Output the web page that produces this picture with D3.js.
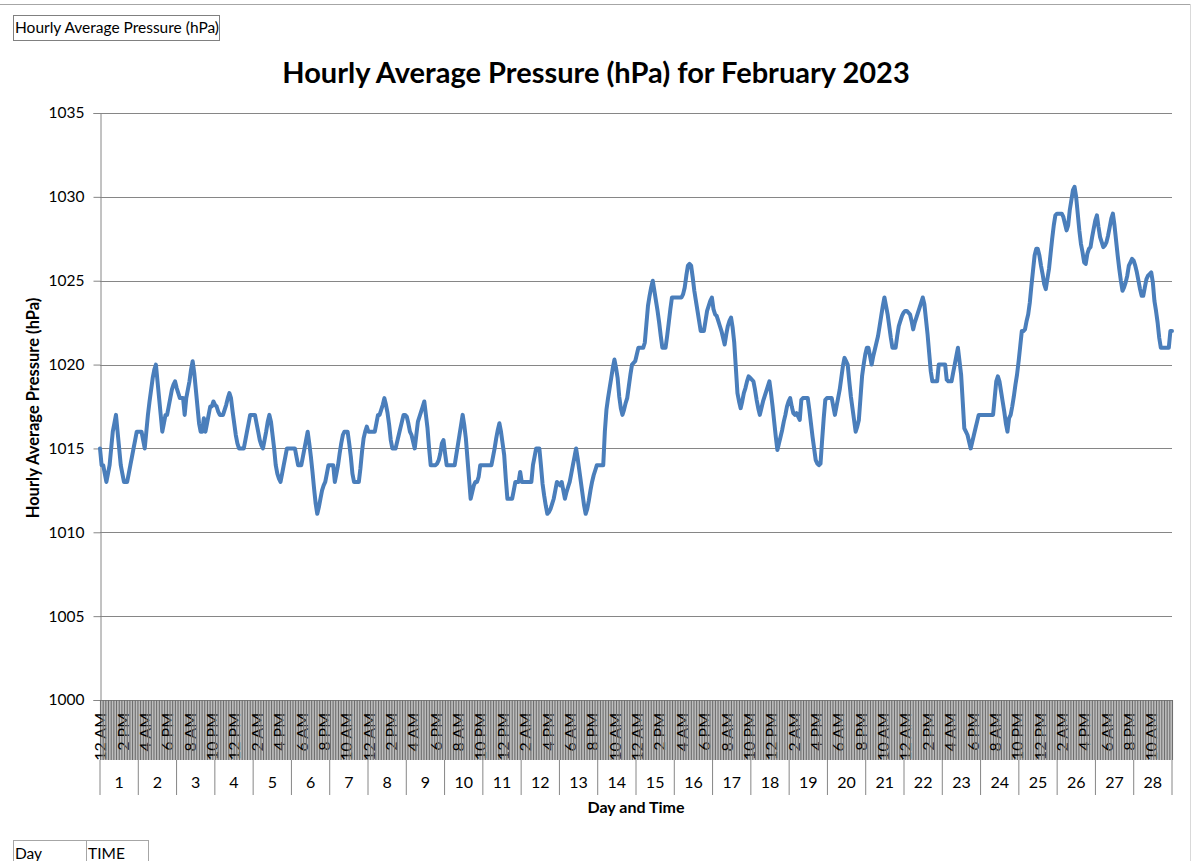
<!DOCTYPE html>
<html><head><meta charset="utf-8">
<script src="https://cdn.jsdelivr.net/npm/d3@7/dist/d3.min.js"></script>
<style>
html,body{margin:0;padding:0;background:#fff;}
svg{display:block;font-family:Lato,"Open Sans",sans-serif;}
</style></head><body>
<svg id="chart" width="1192" height="861"></svg>
<script>
// ---- data ----
const days = [1,2,3,4,5,6,7,8,9,10,11,12,13,14,15,16,17,18,19,20,21,22,23,24,25,26,27,28];
const hourLabels = ["12 AM","1 AM","2 AM","3 AM","4 AM","5 AM","6 AM","7 AM","8 AM","9 AM","10 AM","11 AM",
                    "12 PM","1 PM","2 PM","3 PM","4 PM","5 PM","6 PM","7 PM","8 PM","9 PM","10 PM","11 PM"];
const yTicks = [1000,1005,1010,1015,1020,1025,1030,1035];
const labelEvery = 14;
const pressure = [
 1015,1014,1014,1013.5,1013,1013.5,1014,1015,1016,1016.5,1017,1016,1015,1014,1013.5,1013,1013,1013,1013.5,1014,1014.5,1015,1015.5,1016,
 1016,1016,1016,1015.5,1015,1016,1017,1017.8,1018.5,1019.2,1019.7,1020,1019,1018,1017,1016,1016.5,1017,1017,1017.5,1018,1018.5,1018.8,1019,
 1018.6,1018.3,1018,1018,1018,1017,1018,1018.5,1019,1019.7,1020.2,1019.5,1018.5,1017.5,1016.5,1016,1016,1016.8,1016,1016.5,1017,1017.5,1017.5,1017.8,
 1017.6,1017.5,1017.2,1017,1017,1017,1017.3,1017.6,1018,1018.3,1018,1017.2,1016.5,1015.8,1015.3,1015,1015,1015,1015,1015.5,1016,1016.5,1017,1017,
 1017,1017,1016.5,1016,1015.5,1015.2,1015,1015.5,1016,1016.6,1017,1016.6,1015.8,1015,1014,1013.5,1013.2,1013,1013.5,1014,1014.5,1015,1015,1015,
 1015,1015,1015,1014.5,1014,1014,1014,1014.5,1015,1015.5,1016,1015.3,1014.5,1013.6,1012.6,1011.7,1011.1,1011.5,1012,1012.5,1012.8,1013,1013.5,1014,
 1014,1014,1014,1013,1013.5,1014,1014.7,1015.3,1015.8,1016,1016,1016,1015.3,1014.5,1013.5,1013,1013,1013,1013,1013.8,1014.8,1015.6,1016,1016.3,
 1016,1016,1016,1016,1016,1016.5,1017,1017,1017.3,1017.6,1018,1017.6,1017.1,1016.4,1015.5,1015,1015,1015,1015.4,1015.8,1016.2,1016.6,1017,1017,
 1016.9,1016.5,1016,1015.8,1015.4,1015,1015.8,1016.6,1016.9,1017.2,1017.5,1017.8,1017,1016.2,1015,1014,1014,1014,1014,1014.1,1014.3,1014.7,1015.3,1015.5,
 1014.7,1014,1014,1014,1014,1014,1014,1014.6,1015.2,1015.8,1016.4,1017,1016.4,1015.6,1014.4,1013.2,1012,1012.4,1012.8,1013,1013,1013.3,1014,1014,
 1014,1014,1014,1014,1014,1014,1014.5,1015,1015.6,1016.1,1016.5,1016,1015.3,1014.6,1013.2,1012,1012,1012,1012,1012.5,1013,1013,1013,1013.6,
 1013,1013,1013,1013,1013,1013,1013,1014,1014.5,1015,1015,1015,1014,1012.9,1012.2,1011.6,1011.1,1011.2,1011.4,1011.7,1012,1012.5,1013,1012.9,
 1012.8,1013,1012.5,1012,1012.4,1012.7,1013,1013.5,1014,1014.5,1015,1014.4,1013.7,1013,1012.3,1011.6,1011.1,1011.4,1011.9,1012.5,1013,1013.4,1013.7,1014,
 1014,1014,1014,1014,1016,1017.3,1018,1018.6,1019.2,1019.8,1020.3,1019.8,1019.2,1018.1,1017.4,1017,1017.3,1017.7,1018,1018.7,1019.4,1020,1020.1,1020.2,
 1020.6,1021,1021,1021,1021,1021.3,1022.4,1023.5,1024.1,1024.6,1025,1024.4,1023.8,1023.2,1022.5,1021.7,1021,1021,1021,1021.7,1022.5,1023.3,1024,1024,
 1024,1024,1024,1024,1024,1024.2,1024.6,1025.3,1025.9,1026,1025.9,1025.2,1024.4,1023.8,1023.2,1022.6,1022,1022,1022,1022.6,1023.2,1023.5,1023.8,1024,
 1023.3,1023,1022.9,1022.6,1022.3,1022,1021.6,1021.2,1021.8,1022.3,1022.6,1022.8,1022.2,1021.3,1019.8,1018.3,1017.8,1017.4,1017.8,1018.3,1018.6,1019,1019.3,1019.2,
 1019.1,1019,1018.5,1017.9,1017.4,1017,1017.4,1017.8,1018.1,1018.4,1018.7,1019,1018.3,1017.5,1016.6,1015.7,1014.9,1015.3,1015.7,1016.1,1016.6,1017,1017.5,1017.8,
 1018,1017.5,1017.1,1017,1017.1,1016.9,1016.7,1017.9,1018,1018,1018,1018,1017.3,1016.5,1015.7,1015,1014.3,1014.1,1014,1014.1,1015.5,1016.8,1017.9,1018,
 1018,1018,1018,1017.5,1017,1017.5,1018,1018.5,1019.2,1019.9,1020.4,1020.2,1020,1019,1018.1,1017.4,1016.7,1016,1016.3,1016.7,1018,1019.3,1020,1020.6,
 1021,1021,1020.5,1020,1020.5,1020.9,1021.3,1021.7,1022.3,1022.9,1023.5,1024,1023.5,1023,1022.3,1021.6,1021,1021,1021,1021.7,1022.3,1022.6,1022.9,1023.1,
 1023.2,1023.2,1023.1,1023,1022.6,1022.1,1022.5,1022.8,1023.1,1023.4,1023.7,1024,1023.6,1022.7,1021.8,1020.7,1019.6,1019,1019,1019,1019,1020,1020,1020,
 1020,1020,1019.1,1019,1019,1019,1019.5,1020,1020.5,1021,1020.2,1019.4,1017.8,1016.2,1016,1015.8,1015.4,1015,1015.4,1015.8,1016.2,1016.6,1017,1017,
 1017,1017,1017,1017,1017,1017,1017,1017,1018,1019,1019.3,1019,1018.4,1017.8,1017.2,1016.5,1016,1016.8,1017,1017.5,1018.1,1018.8,1019.4,1020.2,
 1021.1,1022,1022,1022.1,1022.6,1023,1023.7,1024.7,1025.6,1026.5,1026.9,1026.9,1026.5,1025.9,1025.4,1024.8,1024.5,1025.1,1025.7,1026.6,1027.5,1028.3,1028.9,1029,
 1029,1029,1029,1028.8,1028.4,1028,1028.3,1029.2,1029.8,1030.4,1030.6,1030,1029,1028,1027.2,1026.7,1026.1,1026,1026.6,1026.9,1027,1027.6,1028.1,1028.6,
 1028.9,1028.2,1027.6,1027.3,1027,1027.1,1027.3,1027.7,1028.2,1028.7,1029,1028.3,1027.4,1026.5,1025.7,1025,1024.4,1024.6,1024.9,1025.3,1025.9,1026.1,1026.3,1026.2,
 1025.9,1025.5,1025,1024.5,1024.1,1024.1,1024.6,1025.1,1025.3,1025.4,1025.5,1024.9,1023.8,1023.2,1022.5,1021.6,1021,1021,1021,1021,1021,1021,1022,1022
];

// ---- chart ----
const svg = d3.select("#chart");
const plot = {left:100, right:1172, top:113, bottom:700};

const cats = pressure.map((v,i)=>({
  key: days[Math.floor(i/24)] + "|" + hourLabels[i%24],
  idx: i, label: hourLabels[i%24], value: v
}));

const x = d3.scalePoint().domain(cats.map(d=>d.key)).range([plot.left, plot.right]);
const xDay = d3.scaleBand().domain(days).range([plot.left, plot.right]);
const y = d3.scaleLinear().domain([1000,1035]).range([plot.bottom, plot.top]);

// chart-area border
svg.append("line").attr("x1",0).attr("x2",1190.5).attr("y1",4.5).attr("y2",4.5)
   .attr("stroke","#a6a6a6").attr("stroke-width",1);
svg.append("line").attr("x1",1190.5).attr("x2",1190.5).attr("y1",4).attr("y2",861)
   .attr("stroke","#d9d9d9").attr("stroke-width",1);

// top-left label box
svg.append("rect").attr("x",13.5).attr("y",15.5).attr("width",206).attr("height",25)
   .attr("fill","#fff").attr("stroke","#808080");
svg.append("text").attr("x",15).attr("y",33).attr("font-size",15.5).attr("fill","#000")
   .text("Hourly Average Pressure (hPa)");

// title
svg.append("text").attr("x",596).attr("y",83).attr("text-anchor","middle")
   .attr("font-size",29).attr("font-weight","bold").attr("fill","#000")
   .text("Hourly Average Pressure (hPa) for February 2023");

// gridlines
svg.append("g").selectAll("line").data(yTicks).join("line")
   .attr("x1",plot.left).attr("x2",plot.right)
   .attr("y1",d=>Math.round(y(d))+0.5).attr("y2",d=>Math.round(y(d))+0.5)
   .attr("stroke","#868686").attr("stroke-width",1);

// y axis
const yAxis = svg.append("g").attr("transform",`translate(${plot.left+0.5},0)`)
   .call(d3.axisLeft(y).tickValues(yTicks).tickSize(7).tickPadding(9).tickFormat(d3.format("d")));
yAxis.select(".domain").attr("stroke","#868686");
yAxis.selectAll(".tick line").attr("stroke","#868686");
yAxis.selectAll("text").attr("font-size",15.5).attr("fill","#000").attr("font-family","Lato");

// y title
svg.append("text").attr("transform","translate(39,408) rotate(-90)").attr("text-anchor","middle")
   .attr("font-size",16.5).attr("font-weight","bold").attr("fill","#000")
   .text("Hourly Average Pressure (hPa)");

// x axis inner level (hour ticks)
const xAxis = svg.append("g").attr("transform",`translate(0,${plot.bottom})`)
   .call(d3.axisBottom(x).tickSize(60).tickSizeOuter(0)
        .tickFormat(k=>{ const c = cats[x.domain().indexOf(k)]; return c.idx % labelEvery === 0 ? c.label : ""; }));
xAxis.select(".domain").attr("stroke","#868686");
xAxis.selectAll(".tick line").attr("stroke","#6e6e6e").attr("stroke-width",1.1);
xAxis.selectAll(".tick text")
   .attr("transform","rotate(-90)").attr("x",-13).attr("y",0).attr("dy","0.36em")
   .attr("text-anchor","end").attr("font-size",16).attr("fill","#000").attr("font-family","Lato");

// x axis outer level (days)
const dayG = svg.append("g");
dayG.selectAll("line").data(days.concat(["end"])).join("line")
   .attr("x1",d=> d==="end" ? plot.right : xDay(d)).attr("x2",d=> d==="end" ? plot.right : xDay(d))
   .attr("y1",760).attr("y2",795).attr("stroke","#868686").attr("stroke-width",1);
dayG.selectAll("text").data(days).join("text")
   .attr("x",d=>xDay(d)+xDay.bandwidth()/2).attr("y",788).attr("text-anchor","middle")
   .attr("font-size",16).attr("fill","#000").text(d=>d);

// x title
svg.append("text").attr("x",636).attr("y",813).attr("text-anchor","middle")
   .attr("font-size",16).attr("font-weight","bold").attr("fill","#000").text("Day and Time");

// line
svg.append("path").datum(cats)
   .attr("fill","none").attr("stroke","#4a7ebb").attr("stroke-width",4)
   .attr("stroke-linejoin","round").attr("stroke-linecap","round")
   .attr("d", d3.line().x(d=>x(d.key)).y(d=>y(d.value)));

// bottom-left header cells
const hdr = svg.append("g");
hdr.append("line").attr("x1",13).attr("x2",148.5).attr("y1",840.5).attr("y2",840.5).attr("stroke","#a6a6a6");
[13.5,86.5,148.5].forEach(xx=>hdr.append("line").attr("x1",xx).attr("x2",xx).attr("y1",840).attr("y2",861).attr("stroke","#a6a6a6"));
hdr.append("text").attr("x",15).attr("y",859).attr("font-size",15.5).attr("fill","#000").text("Day");
hdr.append("text").attr("x",88).attr("y",859).attr("font-size",15.5).attr("fill","#000").text("TIME");
</script>
</body></html>
